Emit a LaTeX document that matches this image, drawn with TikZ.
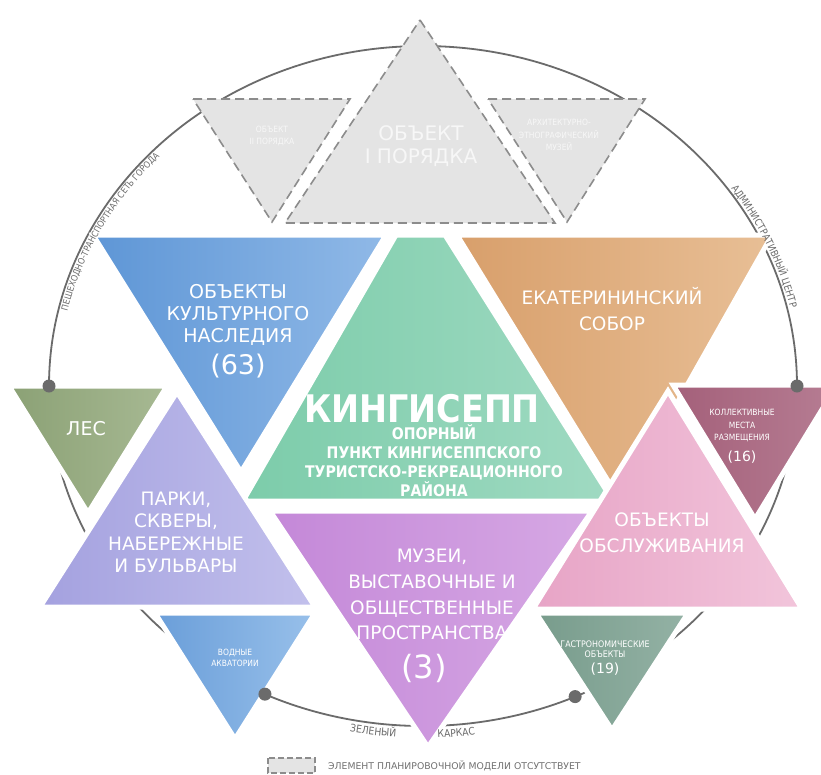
\documentclass[tikz,border=0pt]{standalone}
\usepackage{fontspec}
\setmainfont{DejaVu Sans}
\newfontfamily\condfont{DejaVu Sans}[FakeStretch=0.88]
\usepackage{tikz}
\usetikzlibrary{decorations.text}
\definecolor{ringx}{HTML}{6B6B6B}
\definecolor{greyx}{HTML}{E4E4E4}
\definecolor{dashx}{HTML}{8C8C8C}
\definecolor{bluex}{HTML}{5E96D6}
\definecolor{bluel}{HTML}{90B9E7}
\definecolor{mintx}{HTML}{7CCCAA}
\definecolor{mintl}{HTML}{A0DAC2}
\definecolor{tanx}{HTML}{D89F6B}
\definecolor{tanl}{HTML}{E8BF96}
\definecolor{lavx}{HTML}{A4A1DF}
\definecolor{lavl}{HTML}{C2C0EC}
\definecolor{plumx}{HTML}{C488D8}
\definecolor{pluml}{HTML}{D6A8E4}
\definecolor{rosex}{HTML}{E7A4C6}
\definecolor{rosel}{HTML}{F2C5DB}
\definecolor{olivx}{HTML}{8BA175}
\definecolor{olivl}{HTML}{A7B993}
\definecolor{winex}{HTML}{A4607A}
\definecolor{winel}{HTML}{B67D93}
\definecolor{aquax}{HTML}{6A9ED9}
\definecolor{aqual}{HTML}{98C0EA}
\definecolor{sagex}{HTML}{789C8C}
\definecolor{sagel}{HTML}{94B2A5}
\definecolor{legx}{HTML}{707070}
\tikzset{
  ring/.style={ringx,line width=1.8pt},
  miss/.style={fill=greyx,draw=dashx,line width=1.6pt,dash pattern=on 9pt off 5pt},
  tri/.style={draw=white,line width=5pt,line join=miter},
  hub/.style={circle,fill=ringx,inner sep=0pt,minimum size=13pt},
  lbl/.style={text=white,align=center,inner sep=0pt,font=\fontsize{18.5}{25.5}\selectfont},
  big/.style={text=white,inner sep=0pt,font=\fontsize{27}{30}\selectfont},
  sml/.style={text=white,align=center,inner sep=0pt,font=\condfont\fontsize{8.6}{11.5}\selectfont},
  cnt/.style={text=white,inner sep=0pt,font=\fontsize{14}{16}\selectfont},
  arcl/.style={decorate,decoration={text along path,text align=center,text color=ringx,text={#1}}}
}
\begin{document}
\begin{tikzpicture}[x=1pt,y=-1pt]
\useasboundingbox (0,0) rectangle (821,774);
\clip (0,0) rectangle (821,774);
\fill[white] (0,0) rectangle (821,774);
% ring
\draw[ring] (423,386) ellipse [x radius=374, y radius=340];
% missing elements
\path[miss] (193,99) -- (350,99) -- (272,222) -- cycle;
\path[miss] (488,99) -- (645,99) -- (567,222) -- cycle;
\path[miss] (420,20) -- (555,223) -- (285,223) -- cycle;
% upper row
\path[tri,left color=bluex,right color=bluel] (93,235) -- (386,235) -- (241,472) -- cycle;
\path[tri,left color=tanx,right color=tanl] (457,235) -- (772,235) -- (621,502) -- cycle;
\path[tri,left color=mintx,right color=mintl] (396,235) -- (445,235) -- (613,501) -- (243,501) -- cycle;
\path[tri,left color=olivx,right color=olivl] (9,386) -- (167,386) -- (88,513) -- cycle;
\path[tri,left color=winex,right color=winel] (673,385) -- (837,385) -- (755,519) -- cycle;
% lower row
\path[tri,left color=lavx,right color=lavl] (177,392) -- (315,607) -- (40,607) -- cycle;
\path[tri,left color=rosex,right color=rosel] (668,391) -- (802,609) -- (533,609) -- cycle;
\path[tri,left color=plumx,right color=pluml] (270,511) -- (592,511) -- (428,747) -- cycle;
\path[tri,left color=aquax,right color=aqual] (155,613) -- (315,613) -- (235,739) -- cycle;
\path[tri,left color=sagex,right color=sagel] (536,613) -- (688,613) -- (612,730) -- cycle;
% hubs on the ring
\node[hub] (hubW) at (49,386) {};
\node[hub] (hubE) at (797,386) {};
\node[hub] (hubSW) at ({423+374*cos(115)},{386+340*sin(115)}) {};
\node[hub] (hubSE) at ({423+374*cos(66)},{386+340*sin(66)}) {};
% labels
\node[lbl,text=white!97!black,font=\fontsize{20}{23}\selectfont] (first) at (421,146) {ОБЪЕКТ\\I ПОРЯДКА};
\node[sml,text=white!97!black] (second) at (272,136) {ОБЪЕКТ\\II ПОРЯДКА};
\node[sml,text=white!97!black,font=\condfont\fontsize{8.6}{12.5}\selectfont] (museum) at (559,135) {АРХИТЕКТУРНО-\\ЭТНОГРАФИЧЕСКИЙ\\МУЗЕЙ};
\node[lbl,font=\fontsize{19}{22}\selectfont] (heritage) at (238,315) {ОБЪЕКТЫ\\КУЛЬТУРНОГО\\НАСЛЕДИЯ};
\node[big] (heritageN) at (238,366) {(63)};
\node[lbl] (cathedral) at (612,309) {ЕКАТЕРИНИНСКИЙ\\СОБОР};
\node[text=white,inner sep=0pt,font=\condfont\bfseries\fontsize{38}{40}\selectfont] (town) at (422,409) {КИНГИСЕПП};
\node[lbl,font=\condfont\bfseries\fontsize{16}{19}\selectfont] (townsub) at (434,460.5) {ОПОРНЫЙ\\ПУНКТ КИНГИСЕППСКОГО\\ТУРИСТСКО-РЕКРЕАЦИОННОГО\\РАЙОНА};
\node[lbl,font=\fontsize{19}{27}\selectfont] (forest) at (86,429) {ЛЕС};
\node[lbl,font=\fontsize{18.5}{22.5}\selectfont] (parks) at (176,532) {ПАРКИ,\\СКВЕРЫ,\\НАБЕРЕЖНЫЕ\\И БУЛЬВАРЫ};
\node[lbl,font=\fontsize{18.5}{25.7}\selectfont] (museums) at (432,594.5) {МУЗЕИ,\\ВЫСТАВОЧНЫЕ И\\ОБЩЕСТВЕННЫЕ\\ПРОСТРАНСТВА};
\node[big,font=\fontsize{32}{34}\selectfont] (museumsN) at (424,668) {(3)};
\node[lbl] (service) at (662,533) {ОБЪЕКТЫ\\ОБСЛУЖИВАНИЯ};
\node[sml,font=\condfont\fontsize{8.6}{12.5}\selectfont] (hotels) at (742,425.5) {КОЛЛЕКТИВНЫЕ\\МЕСТА\\РАЗМЕЩЕНИЯ};
\node[cnt] (hotelsN) at (742,457) {(16)};
\node[sml,font=\condfont\fontsize{9}{10.5}\selectfont] (food) at (605,649) {ГАСТРОНОМИЧЕСКИЕ\\ОБЪЕКТЫ};
\node[cnt] (foodN) at (605,669) {(19)};
\node[sml,font=\condfont\fontsize{8.6}{11}\selectfont] (water) at (235,657.5) {ВОДНЫЕ\\АКВАТОРИИ};
% texts along the ring
\path[arcl={|\condfont\fontsize{9}{9}\selectfont|ПЕШЕХОДНО-ТРАНСПОРТНАЯ СЕТЬ ГОРОДА}]
  ({423+365*cos(178)},{386+331*sin(178)}) arc[start angle=178,end angle=238,x radius=365,y radius=331];
\path[arcl={|\condfont\fontsize{10}{10}\selectfont|АДМИНИСТРАТИВНЫЙ ЦЕНТР}]
  ({423+377*cos(316)},{386+343*sin(316)}) arc[start angle=316,end angle=356,x radius=377,y radius=343];
\path[arcl={|\condfont\fontsize{10.5}{10.5}\selectfont|ЗЕЛЕНЫЙ}]
  ({423+386*cos(107.5)},{386+352*sin(107.5)}) arc[start angle=107.5,end angle=87.5,x radius=386,y radius=352];
\path[arcl={|\condfont\fontsize{10.5}{10.5}\selectfont|КАРКАС}]
  ({423+386*cos(95)},{386+352*sin(95)}) arc[start angle=95,end angle=75,x radius=386,y radius=352];
% legend
\path[miss,line width=1.3pt,dash pattern=on 6pt off 3pt] (268,758) rectangle (315,773);
\node[anchor=west,inner sep=0pt,text=legx,font=\fontsize{9.3}{10}\selectfont] (legend) at (328,766) {ЭЛЕМЕНТ ПЛАНИРОВОЧНОЙ МОДЕЛИ ОТСУТСТВУЕТ};
\end{tikzpicture}
\end{document}
